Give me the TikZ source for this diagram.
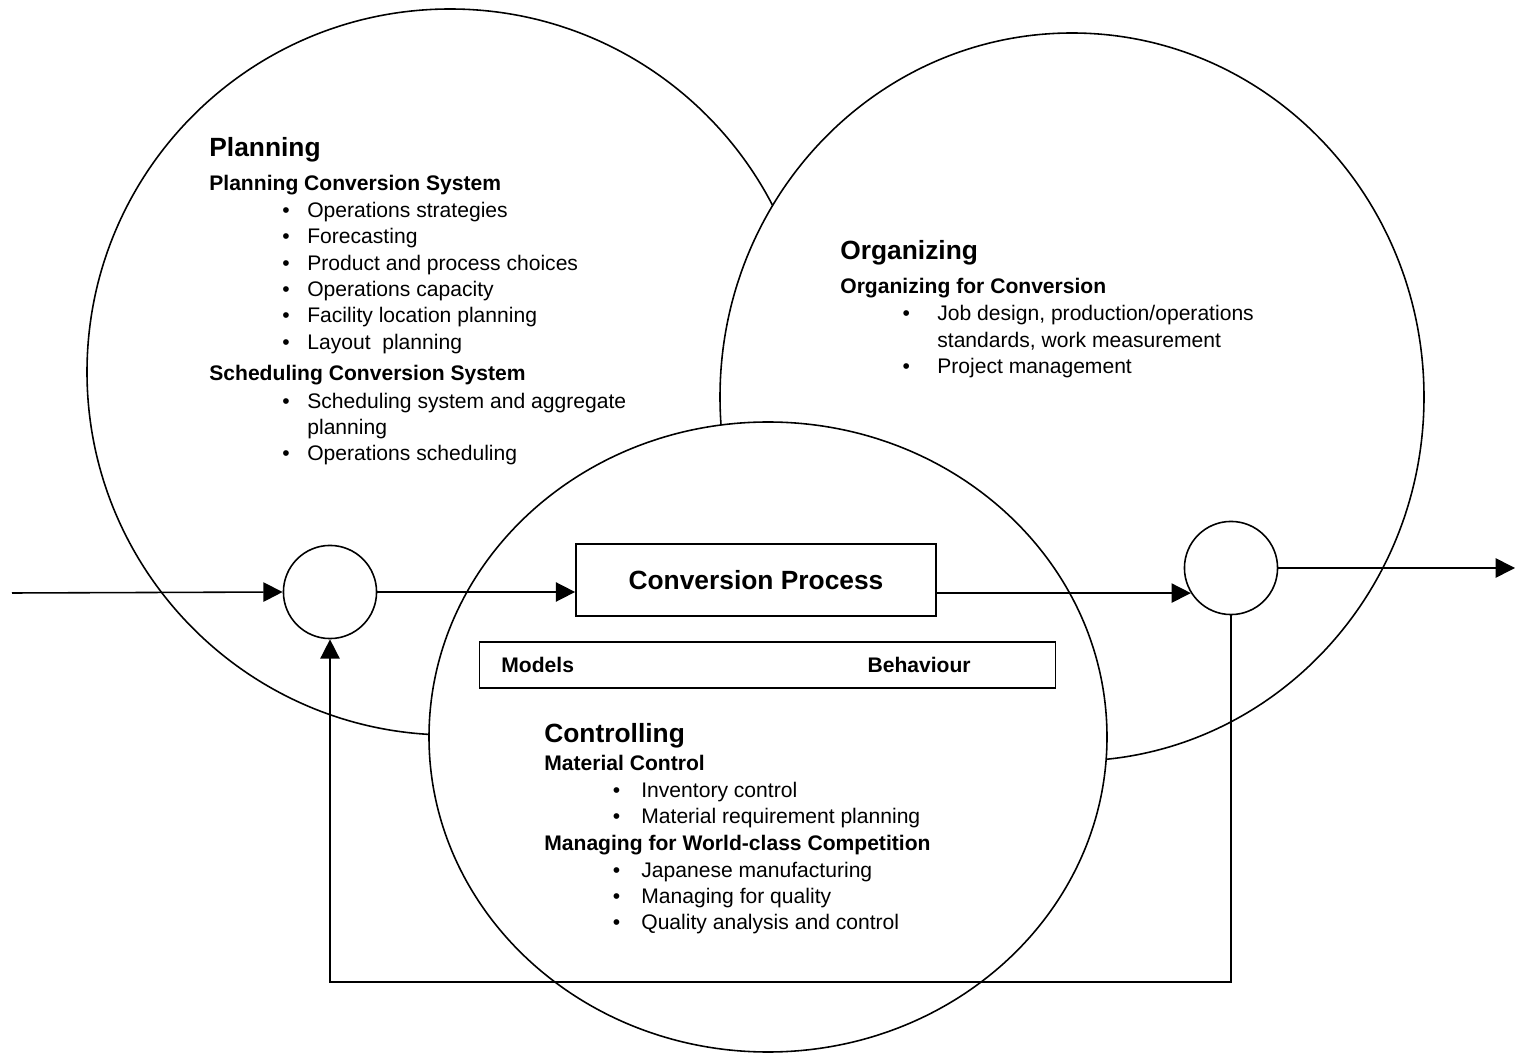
\documentclass[tikz,border=0pt]{standalone}
\usepackage{fontspec}
\setmainfont{Liberation Sans}
\usetikzlibrary{arrows.meta}
\newcommand{\bul}[1][10pt]{\llap{\textbullet\hspace{#1}}\ignorespaces}

\begin{document}
\begin{tikzpicture}[x=0.02cm,y=-0.02cm]
        \tikzset{area/.style = {draw,fill=white,line width=0.9pt}};
        \tikzset{txt/.style = {anchor=base west,inner sep=0pt,font=\fontsize{12}{15}\selectfont}};
        \tikzset{sub/.style = {txt,font=\fontsize{12}{15}\selectfont\bfseries}};
        \tikzset{head/.style = {txt,font=\fontsize{15}{18}\selectfont\bfseries}};
        \tikzset{junction/.style = {shape=circle,draw,fill=white,line width=0.9pt,inner sep=0pt,minimum size=53pt}};
        \tikzset{box/.style = {draw,fill=white,line width=0.9pt,inner sep=0pt}};
        \tikzset{edge/.style = {line width=0.9pt,-{Triangle[length=11pt,width=11pt]}}};
        \useasboundingbox (0,0) rectangle (1515,1053);
        % the three areas
        \draw[area] (450,372) circle [radius=363];
        \draw[area] (1072,397) ellipse [x radius=352,y radius=364];
        \draw[area] (768,737) ellipse [x radius=339,y radius=315];
        % planning
        \node[head] (pl) at (209,157) {Planning};
        \node[sub] (pl1) at (209,191) {Planning Conversion System};
        \node[txt] (pl2) at (307,218) {\bul Operations strategies};
        \node[txt] (pl3) at (307,244) {\bul Forecasting};
        \node[txt] (pl4) at (307,271) {\bul Product and process choices};
        \node[txt] (pl5) at (307,297) {\bul Operations capacity};
        \node[txt] (pl6) at (307,323) {\bul Facility location planning};
        \node[txt] (pl7) at (307,350) {\bul Layout\ \ planning};
        \node[sub] (pl8) at (209,381) {Scheduling Conversion System};
        \node[txt] (pl9) at (307,409) {\bul Scheduling system and aggregate};
        \node[txt] (pl10) at (307,435) {planning};
        \node[txt] (pl11) at (307,461) {\bul Operations scheduling};
        % organizing
        \node[head] (org) at (840,260) {Organizing};
        \node[sub] (org1) at (840,294) {Organizing for Conversion};
        \node[txt] (org2) at (937,321) {\bul[15.5pt] Job design, production/operations};
        \node[txt] (org3) at (937,348) {standards, work measurement};
        \node[txt] (org4) at (937,374) {\bul[15.5pt] Project management};
        % controlling
        \node[head] (ctl) at (544,743) {Controlling};
        \node[sub] (ctl1) at (544,771) {Material Control};
        \node[txt] (ctl2) at (641,798) {\bul[12pt] Inventory control};
        \node[txt] (ctl3) at (641,824) {\bul[12pt] Material requirement planning};
        \node[sub] (ctl4) at (544,850) {Managing for World-class Competition};
        \node[txt] (ctl5) at (641,877) {\bul[12pt] Japanese manufacturing};
        \node[txt] (ctl6) at (641,903) {\bul[12pt] Managing for quality};
        \node[txt] (ctl7) at (641,929) {\bul[12pt] Quality analysis and control};
        % process boxes
        \node[box,minimum width=205pt,minimum height=41pt,font=\fontsize{15}{18}\selectfont\bfseries] (cp) at (756,580) {Conversion Process};
        \node[box,minimum width=328pt,minimum height=26pt] (mb) at (767.5,665) {};
        \node[sub,anchor=base west] (mod) at (501,673) {Models};
        \node[sub,anchor=base east] (beh) at (971,673) {Behaviour};
        % junctions
        \node[junction] (lc) at (330,592) {};
        \node[junction] (rc) at (1231,568) {};
        \coordinate (in) at (12,593);
        \coordinate (out) at (1515,568);
        \coordinate (fb) at (330,982);
        \draw[edge] (in) -- (lc.west);
        \draw[edge] (lc.east) -- (lc.east -| cp.west);
        \draw[edge] (cp.east |- rc.212) -- (rc.212);
        \draw[edge] (rc.east) -- (out);
        \draw[edge] (rc.south) |- (fb) -- (lc.south);
    \end{tikzpicture}
\end{document}
